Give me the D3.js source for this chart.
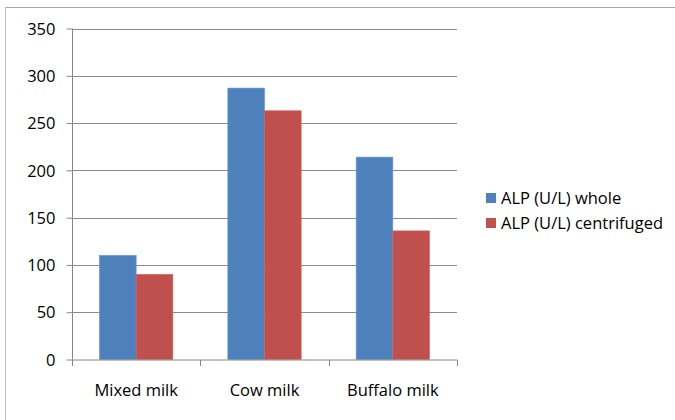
<!DOCTYPE html>
<html>
<head>
<meta charset="utf-8">
<script src="https://cdn.jsdelivr.net/npm/d3@7"></script>
<style>
  html, body { margin: 0; padding: 0; background: #fff; }
  svg { display: block; font-family: "Open Sans", "Noto Sans", sans-serif; }
</style>
</head>
<body>
<svg id="chart" width="675" height="420"></svg>
<script>
// ALP activity in milk samples, whole vs centrifuged
const categories = ["Mixed milk", "Cow milk", "Buffalo milk"];
const seriesNames = ["ALP (U/L) whole", "ALP (U/L) centrifuged"];
const wholeValues = [110, 287, 214];
const centrifugedValues = [90, 263, 136];
const yTicks = [0, 50, 100, 150, 200, 250, 300, 350];
const colors = ["#4F81BD", "#C0504D"];

const svg = d3.select("#chart");
const plot = { left: 72, right: 457, top: 28.5, bottom: 359.5 };
const fontSize = 16.5;

// outer frame (top and left edges visible)
svg.append("line").attr("x1", 5.5).attr("x2", 675).attr("y1", 7.5).attr("y2", 7.5)
  .attr("stroke", "#a6a6a6").attr("stroke-width", 1.2);
svg.append("line").attr("x1", 5.5).attr("x2", 5.5).attr("y1", 7.5).attr("y2", 420)
  .attr("stroke", "#bdbdbd").attr("stroke-width", 1);

const x = d3.scaleBand().domain(categories).range([plot.left, plot.right]).paddingInner(0).paddingOuter(0);
const y = d3.scaleLinear().domain([0, 350]).range([plot.bottom, plot.top]);

// horizontal gridlines
svg.append("g").selectAll("line").data(yTicks.filter(d => d > 0)).join("line")
  .attr("x1", plot.left).attr("x2", plot.right)
  .attr("y1", d => Math.round(y(d)) + 0.5).attr("y2", d => Math.round(y(d)) + 0.5)
  .attr("stroke", "#8c8c8c").attr("stroke-width", 1);

// bars: two series side by side, centred in each category
const x1 = d3.scaleBand().domain([0, 1]).range([0, x.bandwidth()]).paddingInner(0).paddingOuter(0.75);
const series = [wholeValues, centrifugedValues];
series.forEach((vals, si) => {
  svg.append("g").selectAll("rect").data(categories).join("rect")
    .attr("x", (c) => x(c) + x1(si))
    .attr("width", x1.bandwidth())
    .attr("y", (c, i) => y(vals[i]))
    .attr("height", (c, i) => plot.bottom - y(vals[i]))
    .attr("fill", colors[si])
    .attr("stroke", d3.color(colors[si]).brighter(0.4))
    .attr("stroke-width", 0.6);
});

// y axis
const yAxis = d3.axisLeft(y).tickValues(yTicks).tickSize(6).tickPadding(11);
const gy = svg.append("g").attr("transform", `translate(${plot.left + 0.5},0)`).call(yAxis);
gy.selectAll("path, line").attr("stroke", "#868686");
gy.select(".domain").attr("d", `M0,${plot.top}V${plot.bottom}`);
gy.selectAll("text").attr("font-size", fontSize).attr("fill", "#000")
  .attr("font-family", "'Open Sans', sans-serif").attr("dy", "0.35em");

// x axis
const gx = svg.append("g").attr("transform", `translate(0,${plot.bottom + 0.5})`);
gx.append("line").attr("x1", plot.left).attr("x2", plot.right + 0.5)
  .attr("stroke", "#868686");
const bounds = categories.map(c => x(c)).concat([plot.right]);
gx.selectAll("line.tick").data(bounds).join("line").attr("class", "tick")
  .attr("x1", d => Math.round(d) + 0.5).attr("x2", d => Math.round(d) + 0.5)
  .attr("y1", 0).attr("y2", 6).attr("stroke", "#868686");
gx.selectAll("text").data(categories).join("text")
  .attr("x", d => x(d) + x.bandwidth() / 2)
  .attr("y", 36)
  .attr("text-anchor", "middle")
  .attr("font-size", fontSize)
  .attr("fill", "#000")
  .text(d => d);

// legend
const legend = svg.append("g");
seriesNames.forEach((name, i) => {
  const ly = 193 + i * 25;
  legend.append("rect").attr("x", 486).attr("y", ly).attr("width", 10).attr("height", 10)
    .attr("fill", colors[i]);
  legend.append("text").attr("x", 501).attr("y", ly + 11)
    .attr("font-size", fontSize).attr("fill", "#000").text(name);
});
</script>
</body>
</html>
